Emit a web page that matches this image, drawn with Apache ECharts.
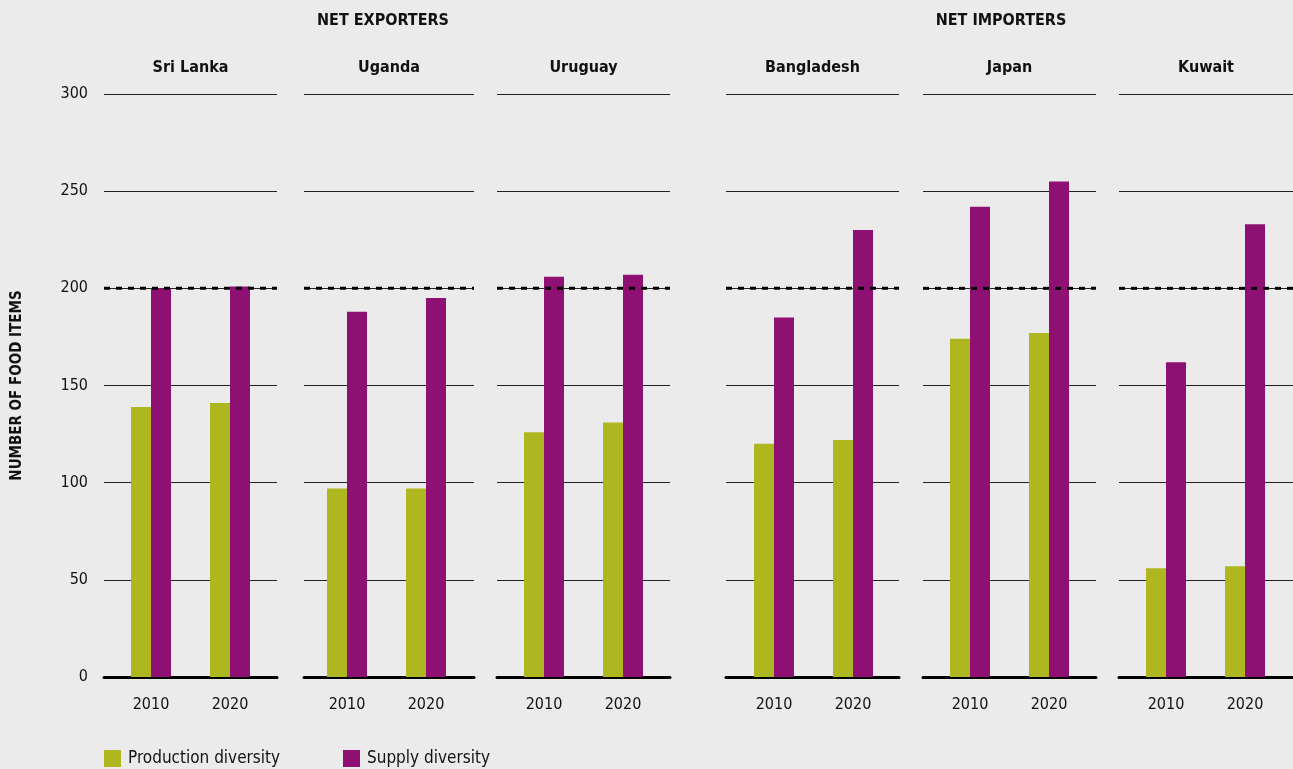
<!DOCTYPE html>
<html>
<head>
<meta charset="utf-8">
<script src="https://cdn.jsdelivr.net/npm/echarts@6/dist/echarts.min.js"></script>
<style>
html,body{margin:0;padding:0;background:#ebebeb;}
#chart{width:1293px;height:769px;}
</style>
</head>
<body>
<div id="chart"></div>
<script>
// ---- data ----
const countries = ['Sri Lanka', 'Uganda', 'Uruguay', 'Bangladesh', 'Japan', 'Kuwait'];
const years = ['2010', '2020'];
const production2010 = [139, 97, 126, 120, 174, 56];
const production2020 = [141, 97, 131, 122, 177, 57];
const supply2010 = [200, 188, 206, 185, 242, 162];
const supply2020 = [201, 195, 207, 230, 255, 233];
const groupLabels = ['NET EXPORTERS', 'NET IMPORTERS'];
const seriesNames = ['Production diversity', 'Supply diversity'];
const yAxisTitle = 'NUMBER OF FOOD ITEMS';
const threshold = 200;
const yMin = 0, yMax = 300, yStep = 50;

// ---- layout ----
const FONT = "'Liberation Sans Narrow','DejaVu Sans Condensed','Roboto Condensed','Liberation Sans',sans-serif";
const TOP = 94, HEIGHT = 583;
const panels = [
  {lineLeft: 104, lineRight: 277, c1: 151},
  {lineLeft: 304, lineRight: 474, c1: 347},
  {lineLeft: 497, lineRight: 670, c1: 544},
  {lineLeft: 726, lineRight: 899, c1: 774},
  {lineLeft: 923, lineRight: 1096, c1: 970},
  {lineLeft: 1119, lineRight: 1293, c1: 1166}
];
const BAND = 79;
const groupCenters = [383, 1001];
const GREEN = '#aeb720', PURPLE = '#8e1073';

const grid = [], xAxis = [], yAxis = [], series = [], title = [];
panels.forEach((p, i) => {
  const gA = grid.length;
  grid.push({left: p.lineLeft, width: p.lineRight - p.lineLeft, top: TOP, height: HEIGHT});
  grid.push({left: p.c1 - BAND / 2, width: BAND * 2, top: TOP, height: HEIGHT});
  xAxis.push({gridIndex: gA, type: 'category', data: ['a', 'b'], boundaryGap: false,
    axisLine: {show: true, lineStyle: {color: '#000', width: 3}},
    axisTick: {show: false}, axisLabel: {show: false}, splitLine: {show: false}});
  yAxis.push({gridIndex: gA, type: 'value', min: yMin, max: yMax, interval: yStep,
    axisLine: {show: false}, axisTick: {show: false},
    axisLabel: {show: i === 0, color: '#111', fontFamily: FONT, fontSize: 16, margin: 16},
    splitLine: {show: true, lineStyle: {color: '#222', width: 1}},
    name: i === 0 ? yAxisTitle : '', nameLocation: 'middle', nameGap: 79, nameRotate: 90,
    nameTextStyle: {fontFamily: FONT, fontWeight: 'bold', fontSize: 15, color: '#111'}});
  xAxis.push({gridIndex: gA + 1, type: 'category', data: years,
    axisLine: {show: false}, axisTick: {show: false},
    axisLabel: {color: '#111', fontFamily: FONT, fontSize: 16, margin: 20}});
  yAxis.push({gridIndex: gA + 1, type: 'value', min: yMin, max: yMax, interval: yStep, show: false,
    splitLine: {show: false}});
  series.push({name: seriesNames[0], type: 'bar', xAxisIndex: gA + 1, yAxisIndex: gA + 1,
    data: [production2010[i], production2020[i]], barWidth: 20, barGap: '0%', z: 2,
    itemStyle: {color: GREEN}});
  series.push({name: seriesNames[1], type: 'bar', xAxisIndex: gA + 1, yAxisIndex: gA + 1,
    data: [supply2010[i], supply2020[i]], barWidth: 20, barGap: '0%', z: 2,
    itemStyle: {color: PURPLE}});
  series.push({type: 'line', xAxisIndex: gA, yAxisIndex: gA, data: [threshold, threshold],
    symbol: 'none', silent: true, z: 5,
    lineStyle: {color: '#000', width: 3, type: [6, 6]}});
  title.push({text: countries[i], left: (p.lineLeft + p.lineRight) / 2, top: 60, textAlign: 'center',
    padding: 0,
    textStyle: {fontFamily: FONT, fontWeight: 'bold', fontSize: 16, color: '#111'}});
});
groupLabels.forEach((g, k) => {
  title.push({text: g, left: groupCenters[k], top: 13, textAlign: 'center', padding: 0,
    textStyle: {fontFamily: FONT, fontWeight: 'bold', fontSize: 16, color: '#111'}});
});

const chart = echarts.init(document.getElementById('chart'));
chart.setOption({
  backgroundColor: '#ebebeb',
  animation: false,
  title: title,
  legend: [
    {data: [seriesNames[0]], left: 104, top: 750, padding: 0, itemWidth: 17, itemHeight: 17, icon: 'rect',
      itemGap: 0, textStyle: {fontFamily: FONT, fontSize: 17, color: '#111', padding: [0, 0, 0, 2]}},
    {data: [seriesNames[1]], left: 343, top: 750, padding: 0, itemWidth: 17, itemHeight: 17, icon: 'rect',
      itemGap: 0, textStyle: {fontFamily: FONT, fontSize: 17, color: '#111', padding: [0, 0, 0, 2]}}
  ],
  grid: grid,
  xAxis: xAxis,
  yAxis: yAxis,
  series: series
});
</script>
</body>
</html>
